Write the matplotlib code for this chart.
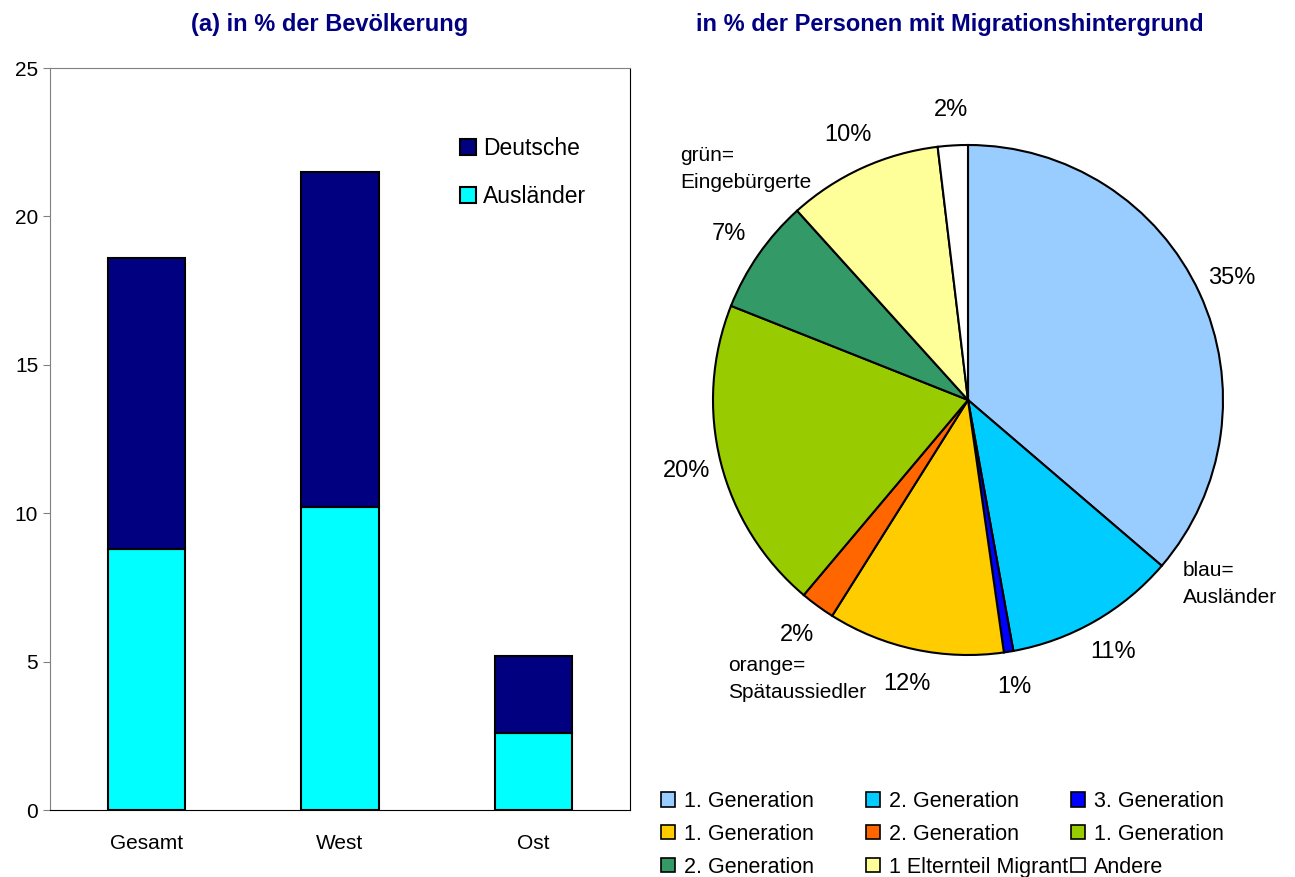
import matplotlib.pyplot as plt
from matplotlib.patches import Patch
import numpy as np

plt.rcParams['font.family'] = ['Liberation Sans', 'DejaVu Sans']

# bar chart data
regions = ['Gesamt', 'West', 'Ost']
auslaender = [8.8, 10.2, 2.6]
deutsche = [9.8, 11.3, 2.6]

# pie chart data (clockwise from the top)
pie_shares = [36.3, 10.9, 0.6, 11.2, 2.2, 19.9, 7.3, 9.8, 1.9]
pie_labels = ['35%', '11%', '1%', '12%', '2%', '20%', '7%', '10%', '2%']
pie_names = ['1. Generation', '2. Generation', '3. Generation',
             '1. Generation', '2. Generation', '1. Generation',
             '2. Generation', '1 Elternteil Migrant', 'Andere']
pie_colors = ['#99CCFF', '#00CCFF', '#0000FF', '#FFCC00', '#FF6600',
              '#99CC00', '#339966', '#FFFF99', '#FFFFFF']

W, H = 1295, 877
fig = plt.figure(figsize=(W / 100, H / 100), dpi=100)

# ---- left: stacked bars
ax = fig.add_axes([50 / W, 1 - 810 / H, 580 / W, 742 / H])
x = np.arange(len(regions))
ax.bar(x, auslaender, width=0.4, color='#00FFFF', edgecolor='black',
       linewidth=1.5, label='Ausländer')
ax.bar(x, deutsche, width=0.4, bottom=auslaender, color='#000080',
       edgecolor='black', linewidth=1.5, label='Deutsche')
ax.set_xlim(-0.5, 2.5)
ax.set_ylim(0, 25)
ax.set_yticks([0, 5, 10, 15, 20, 25])
ax.set_xticks(x)
ax.set_xticklabels(regions)
ax.tick_params(axis='x', length=0, labelsize=15, pad=17)
ax.tick_params(axis='y', length=5, labelsize=15, color='#808080')
for s in ['left', 'top']:
    ax.spines[s].set_color('#808080')
for s in ['right', 'bottom']:
    ax.spines[s].set_color('black')
h, l = ax.get_legend_handles_labels()
ax.legend(h[::-1], l[::-1], loc='upper left', bbox_to_anchor=(0.672, 0.935),
          frameon=False, fontsize=16.5, handlelength=0.7, handleheight=0.7,
          handletextpad=0.3, labelspacing=1.1)
fig.text(330 / W, 1 - 25 / H, '(a) in % der Bevölkerung', ha='center',
         va='center', fontsize=17, fontweight='bold', color='#000080')

# ---- right: pie
R = 255
cx, cy = 968, 400
lim = 1.5
side = 2 * lim * R
pax = fig.add_axes([(cx - side / 2) / W, 1 - (cy + side / 2) / H,
                    side / W, side / H])
wedges, _ = pax.pie(pie_shares, colors=pie_colors, startangle=90,
                    counterclock=False, radius=1,
                    wedgeprops=dict(edgecolor='black', linewidth=1.5))
pax.set_xlim(-lim, lim)
pax.set_ylim(-lim, lim)
pax.axis('off')
for w, lab in zip(wedges, pie_labels):
    ang = np.deg2rad((w.theta1 + w.theta2) / 2)
    pax.text(1.14 * np.cos(ang), 1.14 * np.sin(ang), lab, ha='center',
             va='center', fontsize=17)

fig.text(680 / W, 1 - 169 / H, 'grün=\nEingebürgerte', ha='left', va='center',
         fontsize=15, linespacing=1.5)
fig.text(728 / W, 1 - 679 / H, 'orange=\nSpätaussiedler', ha='left',
         va='center', fontsize=15, linespacing=1.5)
fig.text(1183 / W, 1 - 584 / H, 'blau=\nAusländer', ha='left', va='center',
         fontsize=15, linespacing=1.5)

fig.text(950 / W, 1 - 25 / H, 'in % der Personen mit Migrationshintergrund',
         ha='center', va='center', fontsize=17, fontweight='bold',
         color='#000080')

# pie legend: three equal-width columns, filled row by row
handles = [Patch(facecolor=c, edgecolor='black', linewidth=1.2)
           for c in pie_colors]
col_x = [661, 866, 1071]
for j, xc in enumerate(col_x):
    idx = [j, j + 3, j + 6]
    fig.legend([handles[i] for i in idx], [pie_names[i] for i in idx],
               loc='upper left', bbox_to_anchor=(xc / W, 1 - 791 / H),
               frameon=False, fontsize=15.5, handlelength=0.65,
               handleheight=0.65, handletextpad=0.4, labelspacing=0.55,
               borderpad=0, borderaxespad=0)

fig.savefig('out.png', dpi=100)
